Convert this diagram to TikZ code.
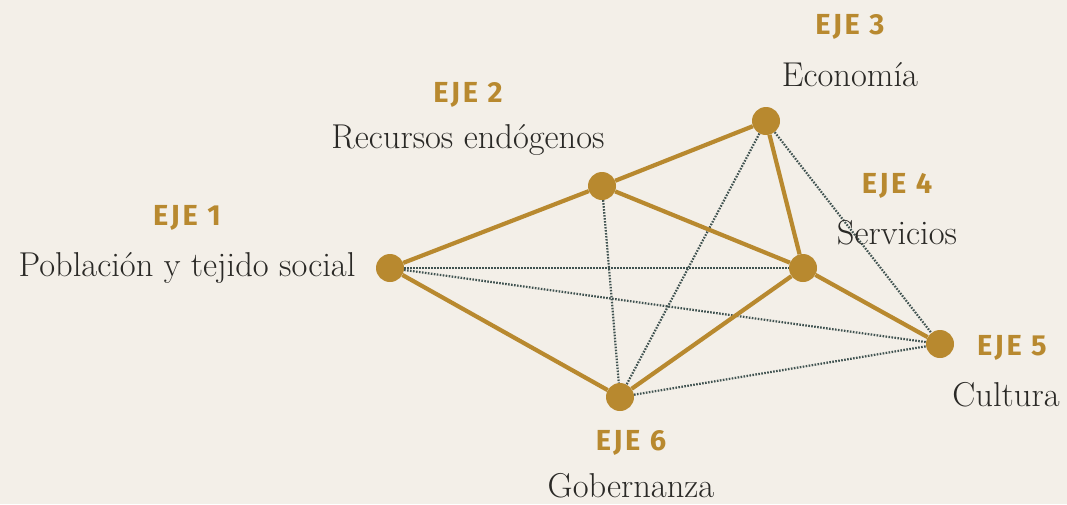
\documentclass[tikz,border=0pt]{standalone}
\usepackage{fontspec}
\newfontfamily\ejefont[LetterSpace=9]{Fira Sans}
\definecolor{fondo}{HTML}{F3EFE8}
\definecolor{oro}{HTML}{B8892F}
\definecolor{gris}{HTML}{3F5250}
\definecolor{texto}{HTML}{2A2926}
\begin{document}
\begin{tikzpicture}[x=1pt,y=-1pt]
\tikzstyle{every node}+=[inner sep=0pt]
\tikzstyle{punto}=[circle,fill=oro,minimum size=28pt]
\tikzstyle{solido}=[oro,line width=4.2pt]
\tikzstyle{puntos}=[gris,line width=2.2pt,dash pattern=on 1.6pt off 1.4pt]
\tikzstyle{titulo}=[text=oro,font=\ejefont\bfseries\fontsize{29}{32}\selectfont]
\tikzstyle{nombre}=[text=texto,font=\addfontfeature{FakeBold=0.8}\fontsize{34.5}{38}\selectfont]
\fill [fondo] (0,0) rectangle (1067,504);
\useasboundingbox (0,0) rectangle (1067,504);
\node [punto] (e1) at (390,268) {};
\node [punto] (e2) at (602,186) {};
\node [punto] (e3) at (766,121) {};
\node [punto] (e4) at (803,268) {};
\node [punto] (e5) at (940,344) {};
\node [punto] (e6) at (620,397) {};
\draw [puntos] (e1) -- (e4);
\draw [puntos] (e1) -- (e5);
\draw [puntos] (e2) -- (e6);
\draw [puntos] (e3) -- (e6);
\draw [puntos] (e3) -- (e5);
\draw [puntos] (e6) -- (e5);
\draw [solido] (e1) -- (e2);
\draw [solido] (e2) -- (e3);
\draw [solido] (e2) -- (e4);
\draw [solido] (e3) -- (e4);
\draw [solido] (e4) -- (e5);
\draw [solido] (e1) -- (e6);
\draw [solido] (e6) -- (e4);
\node [titulo] (t1) at (187,218) {EJE 1};
\node [nombre] (n1) at (187,268) {Población y tejido social};
\node [titulo] (t2) at (468,95) {EJE 2};
\node [nombre] (n2) at (468,140) {Recursos endógenos};
\node [titulo] (t3) at (850,27) {EJE 3};
\node [nombre] (n3) at (850,75) {Economía};
\node [titulo] (t4) at (897,186) {EJE 4};
\node [nombre] (n4) at (897,233) {Servicios};
\node [titulo] (t5) at (1012,348) {EJE 5};
\node [nombre] (n5) at (1006,395) {Cultura};
\node [titulo] (t6) at (631,443) {EJE 6};
\node [nombre] (n6) at (631,486) {Gobernanza};
\end{tikzpicture}
\end{document}
